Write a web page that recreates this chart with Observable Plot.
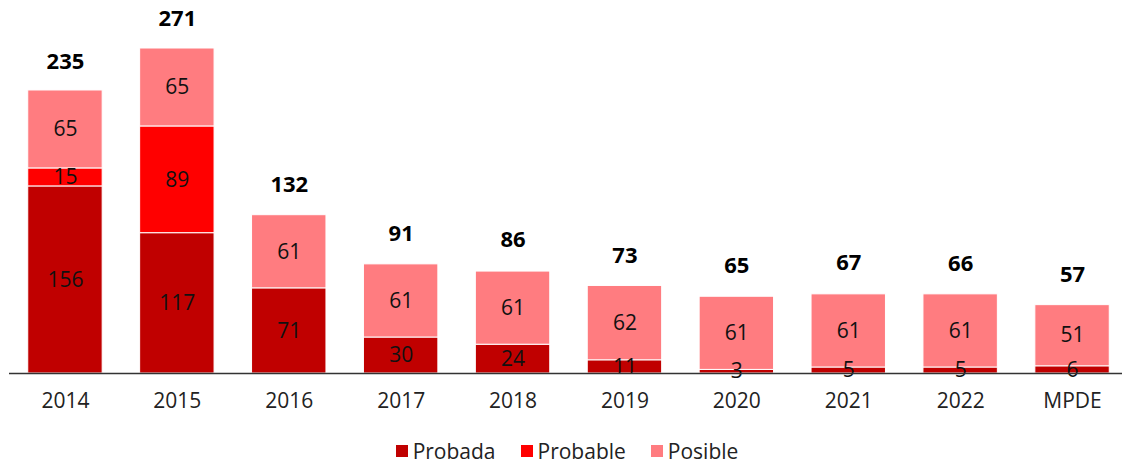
<!DOCTYPE html>
<html><head><meta charset="utf-8">
<script src="https://cdn.jsdelivr.net/npm/d3@7"></script>
<script src="https://cdn.jsdelivr.net/npm/@observablehq/plot@0.6"></script>
<style>
html,body{margin:0;background:#fff;overflow:hidden;}
#chart svg{display:block}
#legend{display:flex;justify-content:center;align-items:center;gap:25px;font-size:21px;color:#222;padding-left:12px;padding-top:12px;height:28px;font-family:"Open Sans",sans-serif}
.item{display:flex;align-items:center;gap:5px}
.sw{width:12px;height:12px;display:inline-block}
</style></head><body><div id="chart"></div><div id="legend"></div>
<script>
const categories = ["2014","2015","2016","2017","2018","2019","2020","2021","2022","MPDE"];
const probada  = [156,117,71,30,24,11,3,5,5,6];
const probable = [15,89,0,0,0,0,0,0,0,0];
const posible  = [65,65,61,61,61,62,61,61,61,51];
const totals   = [235,271,132,91,86,73,65,67,66,57];
const seriesNames = ["Probada","Probable","Posible"];
const seriesColors = ["#C00000","#FF0000","#FF7C80"];

const seriesValues = [probada, probable, posible];
const rows = [];
categories.forEach((c, i) => seriesNames.forEach((s, j) => rows.push({cat: c, series: s, value: seriesValues[j][i]})));
const totalRows = categories.map((c, i) => ({cat: c, total: totals[i]}));

const plot = Plot.plot({
  width: 1122,
  height: 425,
  marginTop: 48,
  marginBottom: 52,
  marginLeft: 9,
  marginRight: 0,
  style: {fontFamily: '"Open Sans", sans-serif', fontSize: "21px", color: "#222", background: "#fff"},
  x: {domain: categories, range: [9, 1128], round: false, paddingInner: 0.335, paddingOuter: 0.1675, label: null, tickSize: 0, tickPadding: 20},
  y: {domain: [0, 271], axis: null},
  color: {domain: seriesNames, range: seriesColors},
  marks: [
    Plot.barY(rows, Plot.stackY({x: "cat", y: "value", fill: "series", order: seriesNames, stroke: "#fff", strokeWidth: 1})),
    Plot.text(rows.filter(d => d.value > 0), Plot.stackY({x: "cat", y: "value", z: "series", order: seriesNames, text: d => String(d.value), fill: "#111", fontSize: 21})),
    Plot.text(totalRows, {x: "cat", y: "total", text: d => String(d.total), dy: -30, fontWeight: "bold", fontSize: 22, fill: "#000"}),
    Plot.ruleY([0], {stroke: "#333", strokeWidth: 1.5})
  ]
});
document.getElementById("chart").appendChild(plot);

const legend = document.getElementById("legend");
seriesNames.forEach((s, i) => {
  const item = document.createElement("span");
  item.className = "item";
  const sw = document.createElement("span");
  sw.className = "sw";
  sw.style.background = seriesColors[i];
  item.appendChild(sw);
  item.appendChild(document.createTextNode(s));
  legend.appendChild(item);
});
</script></body></html>
